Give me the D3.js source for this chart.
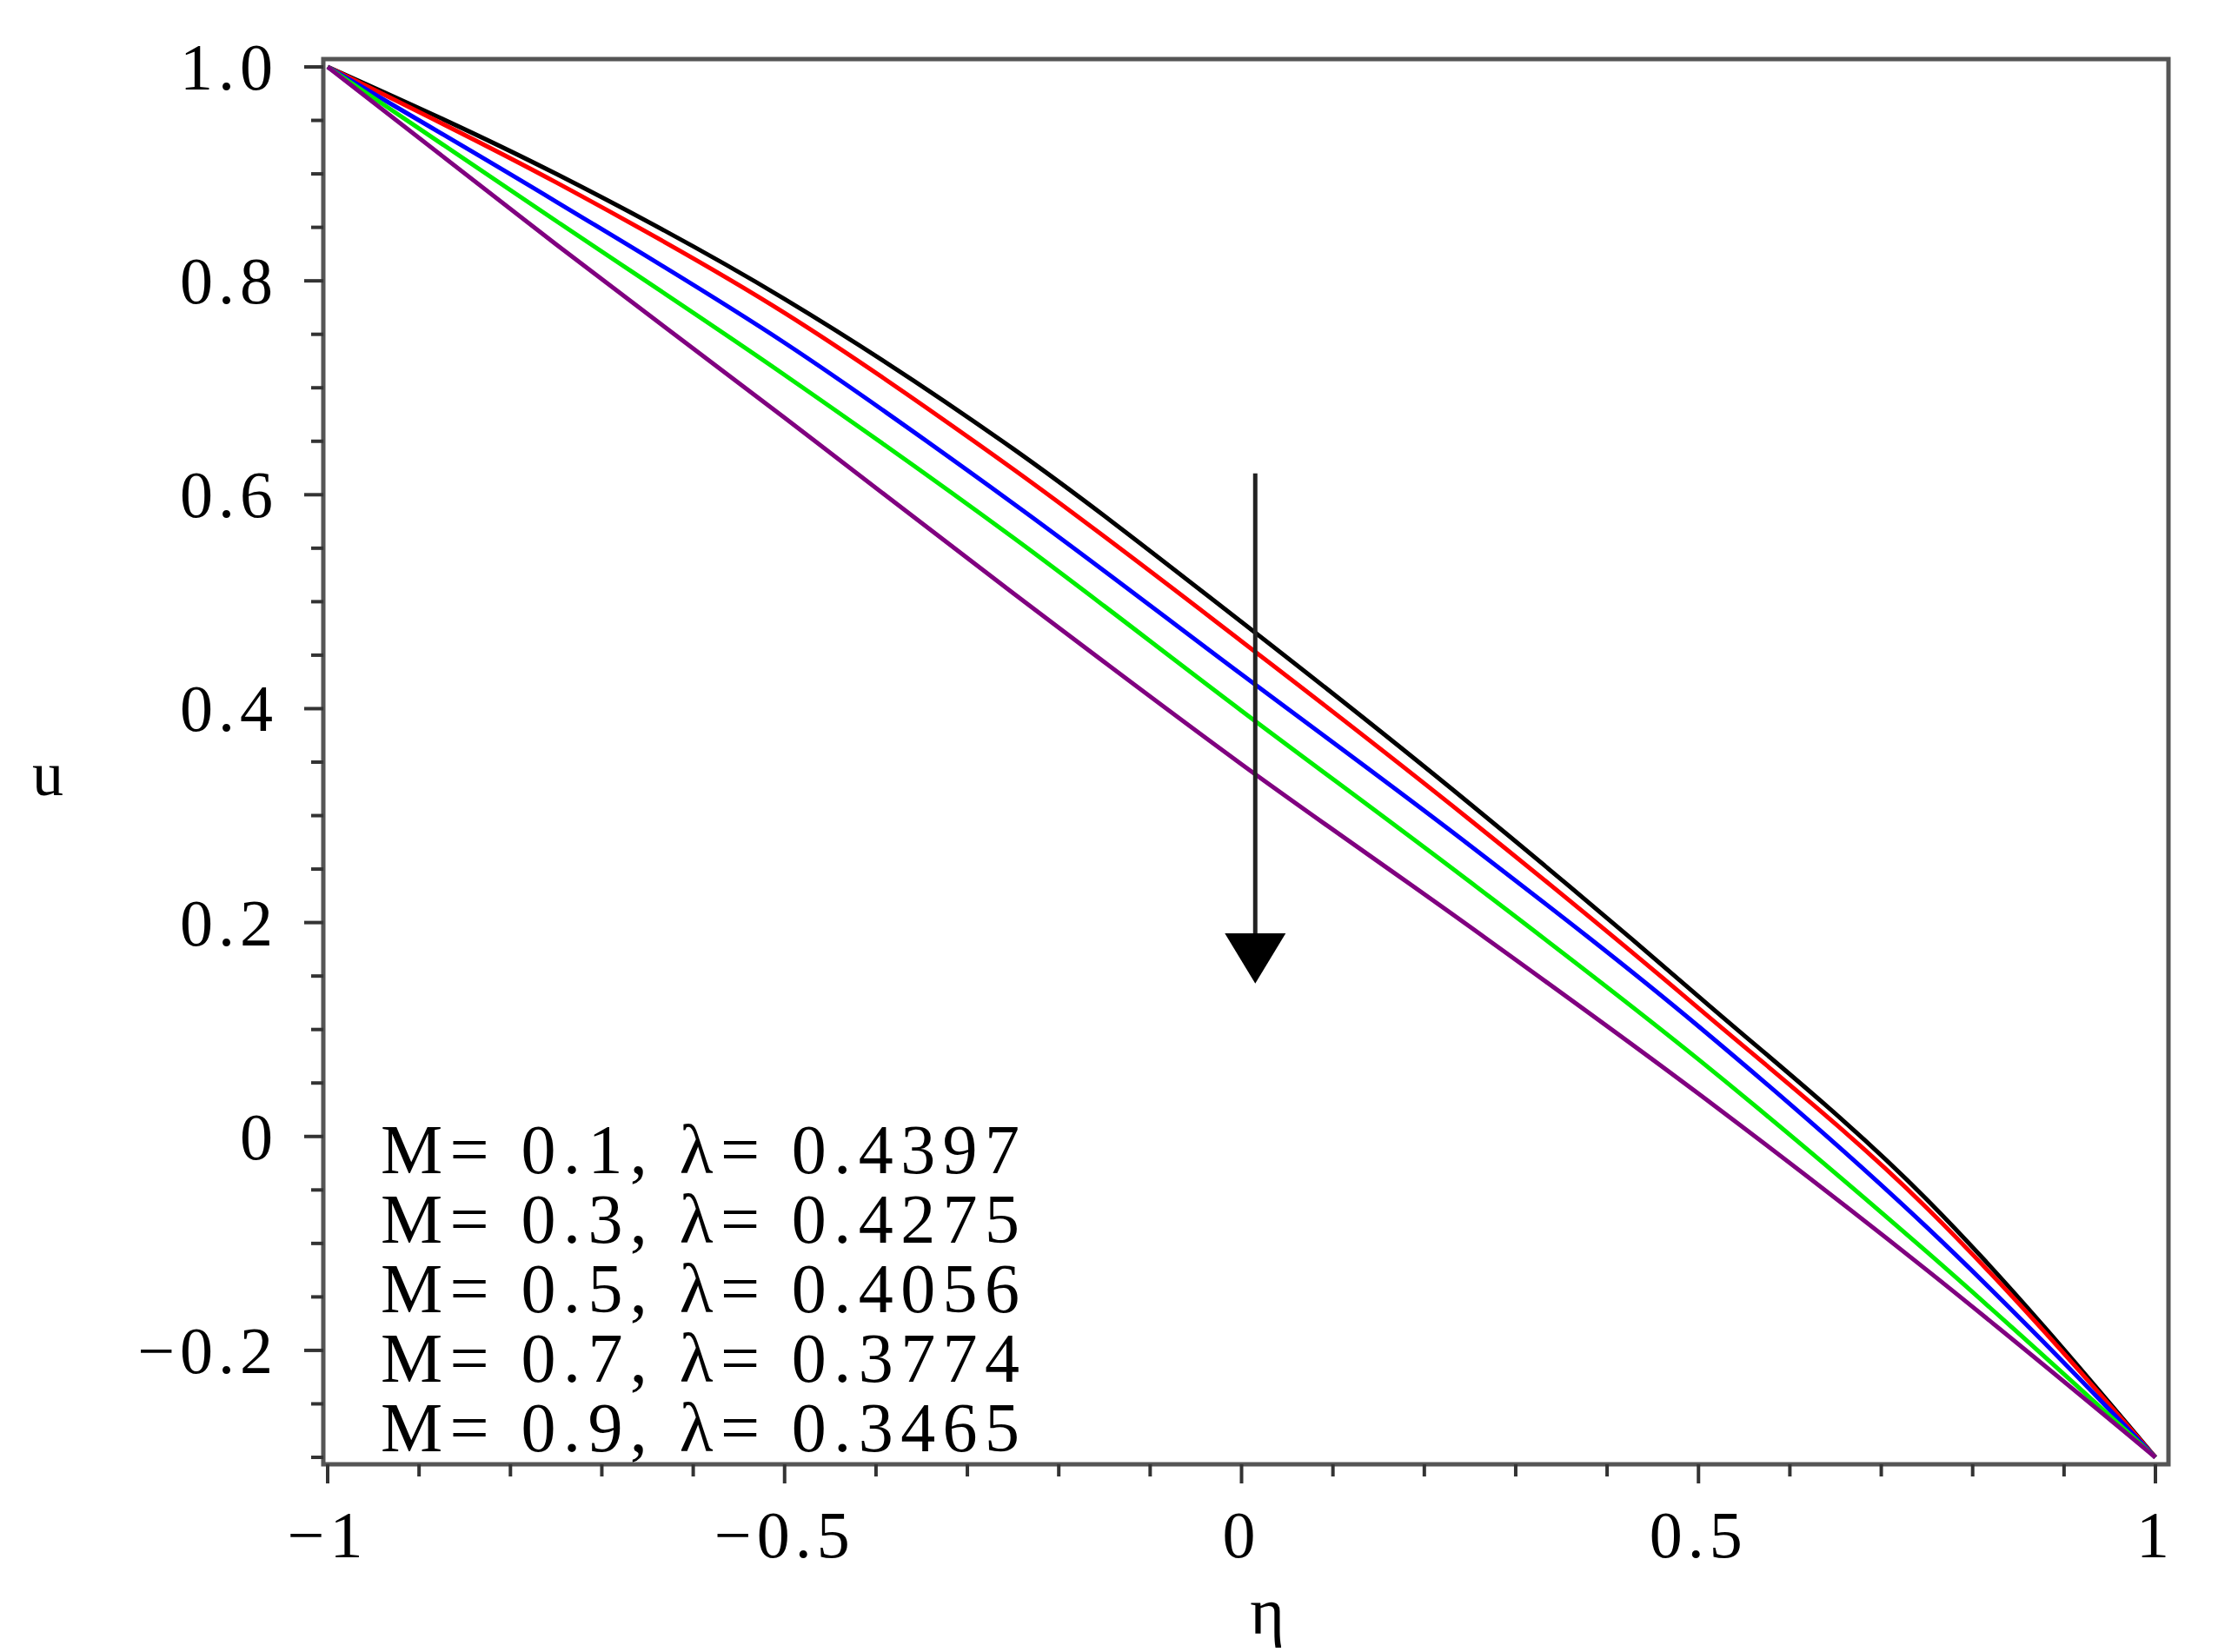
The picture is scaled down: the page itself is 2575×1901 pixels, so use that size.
<!DOCTYPE html>
<html><head><meta charset="utf-8">
<script src="https://cdn.jsdelivr.net/npm/d3@7"></script>
<style>body{margin:0;background:#fff}text{font-family:"Liberation Serif","DejaVu Serif",serif}</style>
</head><body>
<script>
var etas = [-1, -0.75, -0.5, -0.25, 0, 0.25, 0.5, 0.75, 1];
var uBlack  = [1, 0.900, 0.783, 0.643, 0.481, 0.311, 0.131, -0.059, -0.3];
var uRed    = [1, 0.892, 0.770, 0.624, 0.463, 0.296, 0.120, -0.067, -0.3];
var uBlue   = [1, 0.874, 0.742, 0.592, 0.432, 0.272, 0.103, -0.085, -0.3];
var uGreen  = [1, 0.856, 0.712, 0.560, 0.398, 0.238, 0.072, -0.108, -0.3];
var uPurple = [1, 0.834, 0.672, 0.508, 0.348, 0.196, 0.040, -0.125, -0.3];
var seriesColors = ["#000000", "#ff0000", "#0000ff", "#00ee00", "#800080"];
var legendLabels = ["M= 0.1, \u03bb= 0.4397", "M= 0.3, \u03bb= 0.4275", "M= 0.5, \u03bb= 0.4056",
                    "M= 0.7, \u03bb= 0.3774", "M= 0.9, \u03bb= 0.3465"];
var xTicks = [-1, -0.5, 0, 0.5, 1], xTickLabels = ["\u22121", "\u22120.5", "0", "0.5", "1"];
var yTicks = [-0.2, 0, 0.2, 0.4, 0.6, 0.8, 1.0], yTickLabels = ["\u22120.2", "0", "0.2", "0.4", "0.6", "0.8", "1.0"];

var width = 2575, height = 1901;
var svg = d3.select("body").append("svg").attr("width", width).attr("height", height);

var x = d3.scaleLinear().domain([-1, 1]).range([377, 2480]);
var y = d3.scaleLinear().domain([-0.3, 1]).range([1677, 77]);

// frame
svg.append("rect").attr("x", 372).attr("y", 68).attr("width", 2495 - 372).attr("height", 1685 - 68)
  .attr("fill", "none").attr("stroke", "#555").attr("stroke-width", 5);

// minor + major ticks
var minorX = d3.range(-10, 11).map(function(i) { return i / 10; });
svg.selectAll(".xt").data(minorX).enter().append("line")
  .attr("x1", function(d) { return x(d); }).attr("x2", function(d) { return x(d); })
  .attr("y1", 1685).attr("y2", function(d, i) { return i % 5 === 0 ? 1707 : 1699; })
  .attr("stroke", "#333").attr("stroke-width", 4);
var minorY = d3.range(-6, 21).map(function(i) { return i / 20; });
svg.selectAll(".yt").data(minorY).enter().append("line")
  .attr("y1", function(d) { return y(d); }).attr("y2", function(d) { return y(d); })
  .attr("x1", 372).attr("x2", function(d, i) { return (i + 2) % 4 === 0 ? 350 : 358; })
  .attr("stroke", "#333").attr("stroke-width", 4);

svg.selectAll(".xl").data(xTicks).enter().append("text")
  .attr("x", function(d) { return x(d); }).attr("y", 1792).attr("text-anchor", "middle")
  .attr("font-size", 76).attr("letter-spacing", 6).text(function(d, i) { return xTickLabels[i]; });
svg.selectAll(".yl").data(yTicks).enter().append("text")
  .attr("x", 320).attr("y", function(d) { return y(d) + 26; }).attr("text-anchor", "end")
  .attr("font-size", 76).attr("letter-spacing", 6).text(function(d, i) { return yTickLabels[i]; });

svg.append("text").attr("x", 1458).attr("y", 1880).attr("text-anchor", "middle").attr("font-size", 76).text("\u03b7");
svg.append("text").attr("x", 55).attr("y", 915).attr("text-anchor", "middle").attr("font-size", 72).text("u");

var line = d3.line().x(function(d) { return x(d[0]); }).y(function(d) { return y(d[1]); }).curve(d3.curveMonotoneX);
[uBlack, uRed, uBlue, uGreen, uPurple].forEach(function(vals, i) {
  svg.append("path").attr("d", line(etas.map(function(e, j) { return [e, vals[j]]; })))
    .attr("fill", "none").attr("stroke", seriesColors[i]).attr("stroke-width", 5);
});

// arrow
var ax = x(0.015);
svg.append("line").attr("x1", ax).attr("x2", ax).attr("y1", y(0.62)).attr("y2", y(0.19))
  .attr("stroke", "#222").attr("stroke-width", 5);
svg.append("path").attr("d", "M" + (ax - 35) + "," + y(0.19) + "L" + (ax + 35) + "," + y(0.19) + "L" + ax + "," + y(0.143) + "Z")
  .attr("fill", "#000");

svg.selectAll(".lg").data(legendLabels).enter().append("text")
  .attr("x", 438).attr("y", function(d, i) { return 1350 + i * 80; })
  .attr("font-size", 80).attr("textLength", 735).attr("lengthAdjust", "spacing")
  .text(function(d) { return d; });
</script>
</body></html>
